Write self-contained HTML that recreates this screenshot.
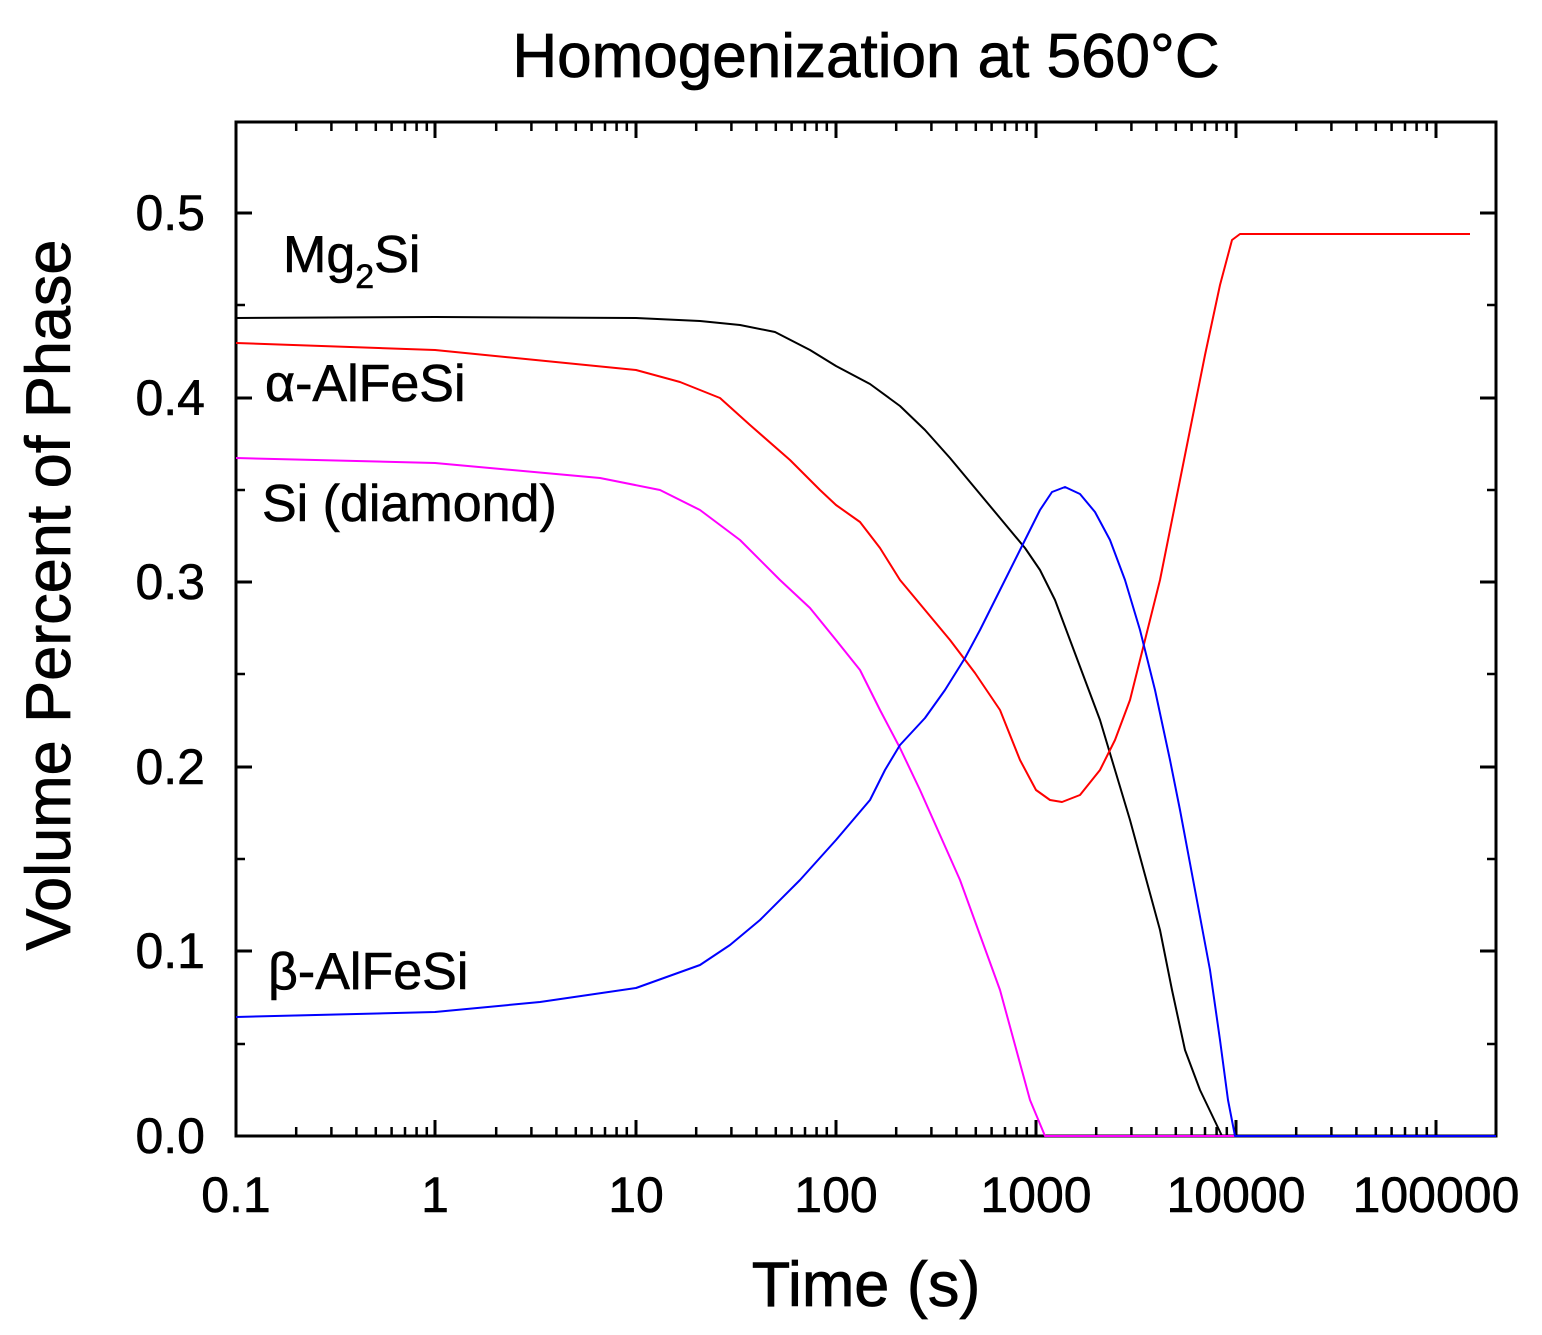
<!DOCTYPE html>
<html><head><meta charset="utf-8"><style>body{margin:0;background:#fff}svg{display:block}</style></head>
<body>
<svg width="1542" height="1335" xmlns="http://www.w3.org/2000/svg" font-family="Liberation Sans, Arial, sans-serif">
<rect width="1542" height="1335" fill="#fff"/>
<text x="866" y="77" font-size="62" text-anchor="middle" stroke="#000" stroke-width="0.8">Homogenization at 560°C</text>
<g stroke="#000" stroke-width="3" fill="none">
<rect x="236" y="122" width="1260" height="1014"/>
<path d="M236 213h16M236 398h16M236 582h16M236 767h16M236 951h16M1496 213h-16M1496 398h-16M1496 582h-16M1496 767h-16M1496 951h-16"/>
<path d="M236 305h9M236 490h9M236 674h9M236 859h9M236 1044h9M1496 305h-9M1496 490h-9M1496 674h-9M1496 859h-9M1496 1044h-9" stroke-width="2.5"/>
<path d="M435 1136v-16M636 1136v-16M836 1136v-16M1036 1136v-16M1236 1136v-16M1436 1136v-16M435 122v16M636 122v16M836 122v16M1036 122v16M1236 122v16M1436 122v16"/>
</g>
<g id="mt" stroke="#000" stroke-width="2.5"></g>
<script>
var g=document.getElementById('mt'),s='';
for(var d=0;d<6;d++){for(var k=2;k<10;k++){var x=236+200*d+200*Math.log10(k);if(x>1496)continue;s+='M'+x.toFixed(1)+' 1136v-9M'+x.toFixed(1)+' 122v9';}}
var p=document.createElementNS('http://www.w3.org/2000/svg','path');p.setAttribute('d',s);p.setAttribute('fill','none');g.appendChild(p);
</script>
<g font-size="50" text-anchor="end" stroke="#000" stroke-width="0.6">
<text x="205" y="1153">0.0</text><text x="205" y="968">0.1</text><text x="205" y="784">0.2</text><text x="205" y="599">0.3</text><text x="205" y="415">0.4</text><text x="205" y="230">0.5</text>
</g>
<g font-size="50" text-anchor="middle" stroke="#000" stroke-width="0.6">
<text x="236" y="1212">0.1</text><text x="435" y="1212">1</text><text x="636" y="1212">10</text><text x="836" y="1212">100</text><text x="1036" y="1212">1000</text><text x="1236" y="1212">10000</text><text x="1436" y="1212">100000</text>
</g>
<text x="866" y="1306" font-size="63" text-anchor="middle" stroke="#000" stroke-width="0.8">Time (s)</text>
<text transform="translate(70,595) rotate(-90)" font-size="63" text-anchor="middle" stroke="#000" stroke-width="0.8">Volume Percent of Phase</text>
<g fill="none" stroke-width="2" stroke-linejoin="round">
<polyline stroke="#000" points="236,318 435,317 636,318 700,321 740,325 775,332 810,350 836,366 870,384 900,406 925,430 950,458 975,488 1000,518 1025,548 1040,570 1055,600 1070,640 1085,680 1100,720 1115,770 1130,820 1145,875 1160,930 1172,990 1185,1050 1200,1090 1222,1136"/>
<polyline stroke="#f00" points="236,343 435,350 636,370 680,382 720,398 750,425 790,460 820,490 836,505 860,522 880,548 900,580 925,610 950,640 975,673 1000,710 1020,760 1036,790 1050,800 1062,802 1080,795 1100,770 1115,740 1130,700 1145,640 1160,580 1175,505 1190,430 1205,355 1220,285 1232,240 1240,234 1470,234"/>
<polyline stroke="#f0f" points="236,458 435,463 600,478 660,490 700,510 740,540 780,580 810,608 836,640 860,670 880,710 900,748 920,790 940,835 960,880 980,935 1000,990 1015,1045 1030,1100 1045,1136 1496,1136"/>
<polyline stroke="#00f" points="236,1017 435,1012 540,1002 636,988 700,965 730,945 760,920 800,880 836,840 870,800 885,770 900,745 925,718 945,690 965,658 980,630 1000,590 1020,550 1040,510 1052,492 1065,487 1080,494 1095,512 1110,540 1125,580 1140,630 1155,690 1170,760 1180,810 1195,890 1210,970 1220,1040 1228,1100 1235,1136 1496,1136"/>
</g>
<g font-size="52" stroke="#000" stroke-width="0.6">
<text x="283" y="272">Mg<tspan font-size="34" dy="16">2</tspan><tspan dy="-16">Si</tspan></text>
<text x="265" y="401">α-AlFeSi</text>
<text x="262" y="521">Si (diamond)</text>
<text x="268" y="989">β-AlFeSi</text>
</g>
</svg>
</body></html>
